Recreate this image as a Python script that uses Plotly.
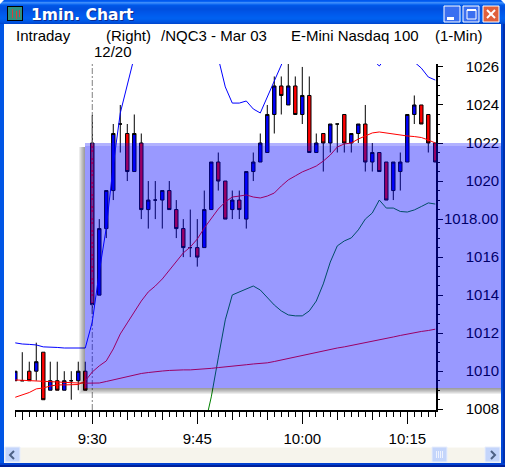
import plotly.graph_objects as go

W, H = 505, 467

# minutes after midnight, 9:19 .. 10:19
minutes = list(range(559, 620))

opens = [1009.5, 1009.5, 1010, 1010, 1011, 1009, 1009.5, 1009, 1009.5, 1009.5, 1010,
         1022, 1014, 1017.5, 1019.5, 1023, 1022.5, 1020.5, 1022, 1018.5, 1019, 1019,
         1019.5, 1018.5, 1017.5, 1016.5, 1016.5, 1016.5, 1018.5, 1021, 1020, 1018.5,
         1019, 1018, 1020.5, 1021, 1021.5, 1023.5, 1025, 1024, 1025, 1023.5, 1024.5,
         1021.5, 1022.5, 1022, 1023, 1023.5, 1022, 1022.5, 1023, 1021, 1021.5, 1021,
         1019.5, 1020.5, 1021, 1023.5, 1024, 1023.5, 1022]
highs = [1010, 1011, 1010.5, 1011.5, 1011, 1010.5, 1010.5, 1010, 1010, 1010.5, 1010.5,
         1023.5, 1018, 1019.5, 1023, 1024, 1023, 1023.5, 1022.5, 1020, 1020, 1019.5,
         1020, 1019, 1018, 1018.5, 1018, 1019.5, 1021, 1021.5, 1020, 1019.5,
         1019.5, 1020.5, 1021.5, 1022.5, 1024, 1025.5, 1025.5, 1026.5, 1025.5, 1026, 1025.5,
         1022.5, 1022.5, 1023, 1023, 1023.5, 1022.5, 1023, 1024, 1022, 1021.5, 1021,
         1021, 1021.5, 1023.5, 1024.5, 1024, 1023.5, 1022]
lows = [1009.5, 1009.5, 1009.5, 1009.5, 1008.5, 1009, 1009, 1009, 1008.5, 1009, 1009,
        1013, 1014, 1017, 1019, 1021.5, 1020, 1020.5, 1018, 1017.5, 1018, 1017.5,
        1018.5, 1017, 1016, 1016, 1015.5, 1016.5, 1018.5, 1019.5, 1018, 1018,
        1018, 1017.5, 1020, 1021, 1021.5, 1022.5, 1023.5, 1024, 1023.5, 1023, 1021.5,
        1021.5, 1020.5, 1021.5, 1021.5, 1021.5, 1021.5, 1022, 1020.5, 1020.5, 1020.5, 1019,
        1019, 1019.5, 1021, 1023, 1023, 1021.5, 1021]
closes = [1010, 1009.5, 1009.5, 1010.5, 1008.5, 1009.5, 1009, 1009.5, 1009.5, 1010, 1009,
          1013.5, 1017.5, 1019.5, 1022.5, 1023, 1020.5, 1022.5, 1018.5, 1019, 1019, 1019.5,
          1018.5, 1017.5, 1016.5, 1016.5, 1016, 1018.5, 1021, 1020, 1018, 1019,
          1018.5, 1020.5, 1021, 1022, 1023.5, 1025, 1024.5, 1025, 1023.5, 1024.5, 1021.5,
          1022, 1022, 1023, 1023, 1022, 1022.5, 1023, 1021, 1021.5, 1020.5, 1019,
          1021, 1021, 1023.5, 1024, 1023, 1022, 1021]

upper_band = [1011.49, 1011.43, 1011.41, 1011.38, 1011.28, 1011.28, 1011.25, 1011.22, 1011.22,
              1011.20, 1011.22, 1012.59, 1015.22, 1017.53, 1020.84, 1023.58, 1025.05, 1026.63,
              1028.0, 1029.0, 1029.5, 1030.0, 1030.0, 1029.8, 1029.5, 1029.3, 1029.1, 1028.8,
              1027.94, 1026.47, 1024.95, 1024.10, 1024.10, 1024.21, 1023.79, 1023.58, 1024.42,
              1025.31, 1026.10, 1027.15, 1027.6, 1027.9, 1028.2, 1028.0, 1027.8, 1027.6, 1027.4,
              1027.2, 1027.0, 1026.9, 1026.7, 1026.4, 1026.05, 1026.5, 1026.9, 1027.0, 1026.8,
              1026.26, 1025.94, 1025.47, 1025.31]
short_ma = [1008.63, 1008.75, 1008.88, 1009.07, 1009.12, 1009.22, 1009.28, 1009.28, 1009.28,
            1009.30, 1009.49, 1009.96, 1010.28, 1010.54, 1011.17, 1011.96, 1012.54, 1013.12,
            1013.69, 1014.17, 1014.48, 1014.85, 1015.32, 1015.80, 1016.22, 1016.53, 1016.95,
            1017.53, 1018.00, 1018.53, 1018.90, 1019.16, 1019.21, 1019.27, 1019.16, 1019.11,
            1019.21, 1019.37, 1019.74, 1020.06, 1020.27, 1020.48, 1020.63, 1020.79, 1021.05,
            1021.37, 1021.79, 1021.95, 1022.00, 1022.21, 1022.37, 1022.53, 1022.58, 1022.53,
            1022.45, 1022.42, 1022.37, 1022.34, 1022.29, 1022.16, 1022.00]
long_ma = [1009.54, 1009.52, 1009.50, 1009.49, 1009.45, 1009.44, 1009.42, 1009.40, 1009.38,
           1009.38, 1009.37, 1009.37, 1009.38, 1009.46, 1009.54, 1009.65, 1009.72, 1009.80,
           1009.88, 1009.93, 1009.98, 1010.01, 1010.04, 1010.07, 1010.07, 1010.07, 1010.09,
           1010.12, 1010.15, 1010.19, 1010.22, 1010.28, 1010.30, 1010.34, 1010.38, 1010.41,
           1010.44, 1010.51, 1010.59, 1010.70, 1010.78, 1010.85, 1010.93, 1011.01, 1011.07,
           1011.14, 1011.22, 1011.28, 1011.35, 1011.43, 1011.51, 1011.59, 1011.64, 1011.72,
           1011.80, 1011.88, 1011.96, 1012.01, 1012.09, 1012.14, 1012.21]
# lower band only comes into view from 9:46
lower_minutes = list(range(586, 620))
lower_band = [1007.02, 1008.65, 1010.70, 1012.70, 1014.01, 1014.17, 1014.32, 1014.48, 1014.27,
              1013.85, 1013.48, 1013.17, 1012.96, 1012.91, 1012.91, 1013.17, 1013.69, 1014.59,
              1015.74, 1016.59, 1016.85, 1017.01, 1017.43, 1018.00, 1018.32, 1019.00, 1018.58,
              1018.58, 1018.40, 1018.37, 1018.48, 1018.66, 1018.85, 1018.79]

x_tick_vals = [570, 585, 600, 615]
x_tick_text = ["9:30", "9:45", "10:00", "10:15"]
y_tick_vals = [1008, 1010, 1012, 1014, 1016, 1018, 1020, 1022, 1024, 1026]
y_tick_text = ["1008", "1010", "1012", "1014", "1016", "", "1020", "1022", "1024", "1026"]
last_value = [1018]
last_text = ["1018.00"]
session_start = 570

header_texts = [("Intraday", 15), ("(Right)", 105), ("/NQC3 - Mar 03", 160),
                ("E-Mini Nasdaq 100", 290), ("(1-Min)", 434)]

FONT = "Liberation Sans"
x_range = [558.96, 619.1]
y_range = [1007.96, 1026.155]


def rect(x0, y0, x1, y1, color, layer="above"):
    return dict(type="rect", xref="paper", yref="paper", layer=layer,
                x0=x0 / W, x1=x1 / W, y0=1 - y0 / H, y1=1 - y1 / H,
                fillcolor=color, line_width=0)


def path(points, color, width=0, fill=None):
    d = "M" + " L".join(f"{x / W:.5f},{1 - y / H:.5f}" for x, y in points)
    if fill:
        d += " Z"
    return dict(type="path", xref="paper", yref="paper", layer="above", path=d,
                fillcolor=fill, line=dict(color=color, width=width))


fig = go.Figure()

fig.add_trace(go.Scatter(x=[session_start, session_start], y=y_range, mode="lines",
                         line=dict(color="#808080", width=1, dash="6px,2px,2px,2px"), hoverinfo="skip"))
fig.add_trace(go.Scatter(x=minutes, y=upper_band, mode="lines", line=dict(color="#0000ff", width=1)))
fig.add_trace(go.Scatter(x=lower_minutes, y=lower_band, mode="lines", line=dict(color="#008000", width=1)))
fig.add_trace(go.Candlestick(
    x=minutes, open=opens, high=highs, low=lows, close=closes,
    increasing=dict(fillcolor="#0000ff", line=dict(color="#000000", width=1)),
    decreasing=dict(fillcolor="#ff0000", line=dict(color="#000000", width=1)),
    whiskerwidth=0,
))
fig.add_trace(go.Scatter(x=minutes, y=long_ma, mode="lines", line=dict(color="#ff0000", width=1)))
fig.add_trace(go.Scatter(x=minutes, y=short_ma, mode="lines", line=dict(color="#ff0000", width=1)))
# keeps the second pair of axes alive (5 minute ticks, last value label)
fig.add_trace(go.Scatter(x=[session_start], y=last_value, xaxis="x2", yaxis="y2", mode="markers",
                         marker=dict(opacity=0), hoverinfo="skip"))

shapes = []

# window frame
shapes.append(rect(0, 0, 4, H, "#0055e5"))
shapes.append(rect(501, 0, 505, H, "#0048d8"))
shapes.append(rect(503, 0, 505, H, "#0030b0"))
shapes.append(rect(0, 463, W, H, "#0040d0"))
shapes.append(rect(0, 465, W, H, "#00209a"))
title_rows = ["#0058ee", "#0a64f4", "#3c8cfa", "#2a7ef8", "#0e68f2", "#0058e8", "#0054e4", "#0052e2",
              "#0050e0", "#0050e0", "#0052e2", "#0054e6", "#0056e8", "#0058ea", "#005aec", "#005cee",
              "#005eef", "#0060f0", "#0060f0", "#005eec", "#005ae8", "#0056e4", "#0050dc", "#0048d0"]
for i, c in enumerate(title_rows):
    shapes.append(rect(0, i, W, i + 1, c))
shapes.append(path([(0, 0), (4, 0), (0, 4)], "#ffffff", fill="#ffffff"))
shapes.append(path([(W, 0), (W - 4, 0), (W, 4)], "#ffffff", fill="#ffffff"))

# title bar icon
shapes.append(rect(7, 6, 23, 21, "#000000"))
shapes.append(rect(8, 7, 22, 20, "#2f8f80"))
shapes.append(rect(12, 9, 13, 18, "#d04040"))
shapes.append(rect(16, 11, 17, 19, "#d04040"))
shapes.append(rect(19, 10, 20, 17, "#d04040"))

# title bar buttons
for x0, c in [(444, "#3a6ff0"), (463, "#3a6ff0"), (483, "#e0603c")]:
    shapes.append(dict(type="rect", xref="paper", yref="paper", layer="above",
                       x0=x0 / W, x1=(x0 + 16) / W, y0=1 - 6 / H, y1=1 - 22 / H,
                       fillcolor=c, line=dict(color="#ffffff", width=1)))
shapes.append(rect(447, 17, 454, 20, "#ffffff"))
shapes.append(dict(type="rect", xref="paper", yref="paper", layer="above",
                   x0=467 / W, x1=476 / W, y0=1 - 10 / H, y1=1 - 19 / H,
                   line=dict(color="#ffffff", width=1)))
shapes.append(rect(467, 9, 476, 11, "#ffffff"))
shapes.append(path([(487, 10), (495, 18)], "#ffffff", width=2))
shapes.append(path([(495, 10), (487, 18)], "#ffffff", width=2))

# selection overlay, with its soft shadow on the left and underneath
for k in range(1, 7):
    shapes.append(rect(85 - k, 147, 85, 388 + k, "rgba(0,0,0,0.075)"))
    shapes.append(rect(85, 388, 501, 388 + k, "rgba(0,0,0,0.075)"))
shapes.append(rect(85, 143, 501, 146, "rgba(0,0,255,0.3)"))
shapes.append(rect(85, 146, 501, 388, "rgba(0,0,255,0.4)"))

# scroll bar
shapes.append(rect(4, 447, 501, 463, "#f6f4ec"))
shapes.append(rect(4, 447, 501, 448, "#fbfaf6"))
for x0 in [5, 432, 485]:
    shapes.append(dict(type="rect", xref="paper", yref="paper", layer="above",
                       x0=x0 / W, x1=(x0 + 15) / W, y0=1 - 447 / H, y1=1 - 462 / H,
                       fillcolor="#c4d5fb", line=dict(color="#e8eefc", width=1)))
shapes.append(path([(14, 451), (10, 455), (14, 459)], "#4d6185", width=2))
shapes.append(path([(491, 451), (495, 455), (491, 459)], "#4d6185", width=2))
for x0 in [436, 438, 440, 442]:
    shapes.append(rect(x0, 451, x0 + 1, 458, "#eef2fe"))

annotations = []
for text, left in header_texts:
    annotations.append(dict(text=text, x=left / W, y=1 - 35 / H, xref="paper", yref="paper",
                            xanchor="left", yanchor="middle", showarrow=False, xshift=-1))
annotations.append(dict(text="12/20", x=93 / W, y=1 - 52 / H, xref="paper", yref="paper",
                        xanchor="left", yanchor="middle", showarrow=False, xshift=-1))
for dx, c in [(1, "#0a2a90"), (0, "#ffffff")]:
    annotations.append(dict(text="<b>1min. Chart</b>", x=(30 + dx) / W, y=1 - (15 + dx) / H,
                            xref="paper", yref="paper", xanchor="left", yanchor="middle",
                            showarrow=False, xshift=-1,
                            font=dict(family="DejaVu Sans", size=15.5, color=c)))

fig.update_layout(
    width=W, height=H,
    margin=dict(l=0, r=0, t=0, b=0),
    paper_bgcolor="#ffffff", plot_bgcolor="#ffffff",
    showlegend=False,
    font=dict(family=FONT, size=15, color="#000000"),
    shapes=shapes,
    annotations=annotations,
    xaxis=dict(
        domain=[15 / W, 436 / W], range=x_range, fixedrange=True, automargin=False,
        rangeslider_visible=False, showgrid=False, zeroline=False,
        showline=True, linecolor="#000000", linewidth=1.5,
        tickmode="array", tickvals=x_tick_vals, ticktext=x_tick_text,
        ticks="outside", ticklen=12, tickcolor="#000000", tickwidth=1,
        ticklabelstandoff=2,
        minor=dict(tickmode="linear", tick0=570, dtick=1, ticks="outside", ticklen=5,
                   tickcolor="#000000", tickwidth=1, showgrid=False),
    ),
    xaxis2=dict(
        overlaying="x", anchor="y", side="bottom", range=x_range, fixedrange=True, automargin=False,
        showgrid=False, zeroline=False, showticklabels=False,
        tickmode="linear", tick0=570, dtick=5, ticks="outside", ticklen=9,
        tickcolor="#000000", tickwidth=1,
    ),
    yaxis=dict(
        domain=[1 - 410 / H, 1 - 64 / H], range=y_range, fixedrange=True, side="right", automargin=False,
        showgrid=False, zeroline=False,
        showline=True, linecolor="#000000", linewidth=1.5,
        tickmode="array", tickvals=y_tick_vals, ticktext=y_tick_text,
        ticks="outside", ticklen=5, tickcolor="#000000", tickwidth=1,
        ticklabelstandoff=20,
        minor=dict(tickmode="linear", tick0=1008, dtick=0.5, ticks="outside", ticklen=2,
                   tickcolor="#000000", tickwidth=1, showgrid=False),
    ),
    yaxis2=dict(
        overlaying="y", anchor="x", side="right", range=y_range, fixedrange=True, automargin=False,
        showgrid=False, zeroline=False,
        tickmode="array", tickvals=last_value, ticktext=last_text,
        ticks="", ticklabelstandoff=7,
    ),
)

fig.write_html("out.html", config=dict(displayModeBar=False),
               post_script="document.body.style.margin='0';document.body.style.overflow='hidden';")
